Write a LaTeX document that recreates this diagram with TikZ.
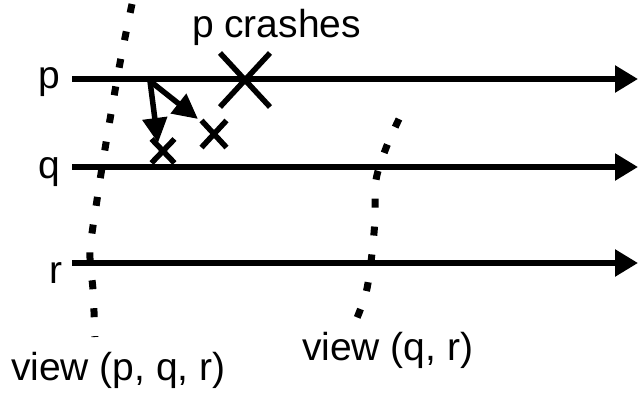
\documentclass[tikz,border=0pt]{standalone}
\usepackage{fontspec}
\setmainfont{Liberation Sans}
\usetikzlibrary{arrows.meta,shapes.misc}
\begin{document}
\begin{tikzpicture}[x=1pt,y=-1pt,
  lbl/.style={font=\fontsize{39}{45}\selectfont, inner sep=0pt, outer sep=0pt},
  timeline/.style={line width=5.5pt, -{Triangle[length=23pt,width=26pt]}},
  msg/.style={line width=5.5pt, -{Triangle[length=25pt,width=24pt]}},
  cutline/.style={line width=7pt, dash pattern=on 9pt off 19pt},
  crossmark/.style={draw, cross out, line width=5.5pt, inner sep=0pt, outer sep=0pt}]
\useasboundingbox (0,0) rectangle (638,397);
% process lines
\coordinate (ps) at (72,79);  \coordinate (pe) at (638,79);
\coordinate (qs) at (72,167); \coordinate (qe) at (638,167);
\coordinate (rs) at (72,263); \coordinate (re) at (638,263);
\draw[timeline] (ps) -- (pe);
\draw[timeline] (qs) -- (qe);
\draw[timeline] (rs) -- (re);
% labels
\node[lbl, anchor=base east] (plabel) at (60,88) {p};
\node[lbl, anchor=base east] (qlabel) at (60,178) {q};
\node[lbl, anchor=base east] (rlabel) at (62,283) {r};
\node[lbl, anchor=base west] (crashlabel) at (192,37) {p crashes};
\node[lbl, anchor=base west] (view1) at (11,380) {view (p, q, r)};
\node[lbl, anchor=base west] (view2) at (302,360) {view (q, r)};
% crosses
\node[crossmark, minimum width=50pt, minimum height=54pt] (crash) at (245,80) {};
\node[crossmark, minimum width=23pt, minimum height=24pt] (lost1) at (163,151) {};
\node[crossmark, minimum width=25pt, minimum height=27pt] (lost2) at (214,134) {};
% messages
\coordinate (send) at (150,81);
\coordinate (m1tip) at (158,143);
\coordinate (m2tip) at (198,119);
\draw[msg] (send) -- (m1tip);
\draw[msg] (send) -- (m2tip);
% cuts
\draw[cutline] plot[smooth] coordinates {(132,4) (120,63) (106,143) (97,200) (90,252) (93,290) (95,337)};
\draw[cutline] plot[smooth] coordinates {(399,119) (386,148) (376,180) (375,220) (371,262) (366,293) (357,318)};
\end{tikzpicture}
\end{document}
